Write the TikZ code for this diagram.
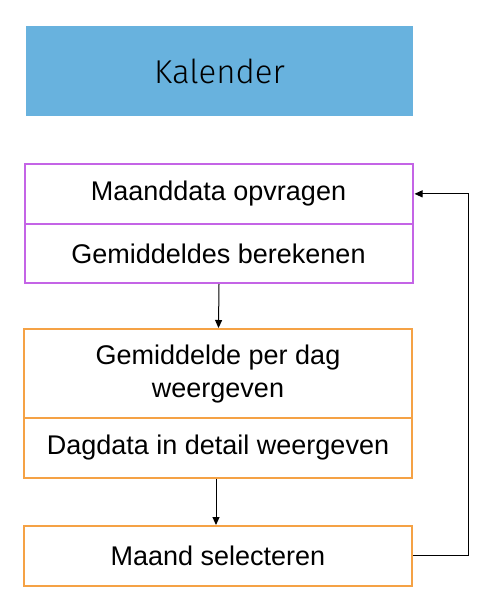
\documentclass[tikz,border=0pt]{standalone}
\usepackage{fontspec}
\setmainfont{Liberation Sans}
\newfontfamily\kalfont{Fira Sans Light}
\usetikzlibrary{arrows.meta}
\definecolor{kalblue}{HTML}{68B2DE}
\definecolor{purp}{HTML}{C464E6}
\definecolor{orng}{HTML}{F5A245}
\begin{document}
\begin{tikzpicture}[x=1pt,y=-1pt,
  box/.style={draw, line width=2pt, minimum width=388pt, inner sep=0pt, align=center, font=\fontsize{27}{33}\selectfont},
  pbox/.style={box, draw=purp},
  obox/.style={box, draw=orng},
  conn/.style={line width=1pt, -{Triangle[length=8pt,width=7pt]}}]
\useasboundingbox (0,0) rectangle (484,612);
\node[fill=kalblue, minimum width=387pt, minimum height=90pt, inner sep=0pt, font=\kalfont\fontsize{33}{38}\selectfont] (kal) at (219.5,71) {Kalender};
\node[pbox, minimum height=59.7pt] (md) at (218.5,193.85) {Maanddata opvragen};
\node[pbox, minimum height=59.3pt] (gb) at (218.5,253.35) {Gemiddeldes berekenen};
\node[obox, minimum height=89.3pt] (gw) at (218,373.65) {Gemiddelde per dag\\weergeven};
\node[obox, minimum height=59.4pt] (dd) at (218,448) {Dagdata in detail weergeven};
\node[obox, minimum height=59.7pt] (ms) at (218,555.85) {Maand selecteren};
\coordinate (c) at (468,0);
\draw[conn] ([xshift=0.5pt]gb.south) -- ([xshift=0.5pt]gw.north);
\draw[conn] ([xshift=-2pt]dd.south) -- ([xshift=-2pt]ms.north);
\draw[conn, shorten >=1pt] (ms.east) -- (ms.east -| c) -- (md.east -| c) -- (md.east);
\end{tikzpicture}
\end{document}
